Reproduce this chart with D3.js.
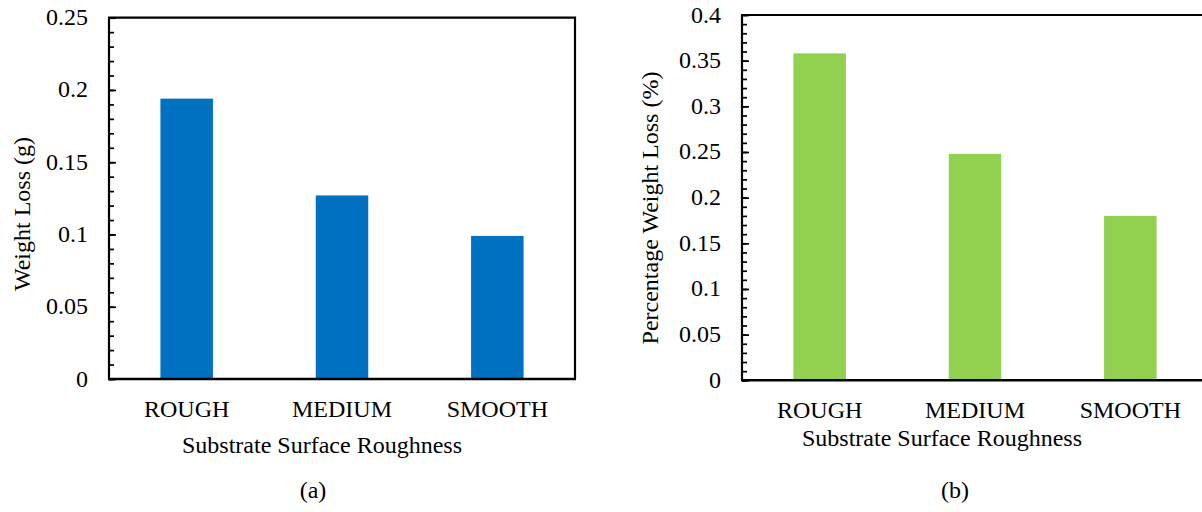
<!DOCTYPE html>
<html>
<head>
<meta charset="utf-8">
<script src="https://cdn.jsdelivr.net/npm/d3@7"></script>
<style>
  body { margin: 0; background: #fff; }
  svg { display: block; }
</style>
</head>
<body>
<svg id="chart" width="1202" height="512"></svg>
<script>
// data
var categories = ["ROUGH", "MEDIUM", "SMOOTH"];
var weightLoss = [0.194, 0.127, 0.099];
var percentLoss = [0.358, 0.248, 0.180];
var weightTicks = [0, 0.05, 0.1, 0.15, 0.2, 0.25];
var percentTicks = [0, 0.05, 0.1, 0.15, 0.2, 0.25, 0.3, 0.35, 0.4];
var xTitle = "Substrate Surface Roughness";

var svg = d3.select("#chart"),
    fontSize = 24,
    fontFamily = "'Liberation Serif', 'Times New Roman', Times, 'DejaVu Serif', serif";

function label(sel) {
    return sel.style("font-family", fontFamily)
        .style("font-size", fontSize + "px")
        .style("fill", "#000");
}

function drawPanel(opt) {
    var x = d3.scaleBand()
        .domain(categories)
        .range([opt.left, opt.right])
        .paddingInner(0.662)
        .paddingOuter(0.331);
    var y = d3.scaleLinear()
        .domain([0, opt.max])
        .range([opt.bottom, opt.top]);

    var g = svg.append("g");

    // bars
    g.selectAll("rect.bar")
        .data(opt.values)
      .enter().append("rect")
        .attr("class", "bar")
        .attr("x", function (d, i) { return x(categories[i]); })
        .attr("y", function (d) { return y(d); })
        .attr("width", x.bandwidth())
        .attr("height", function (d) { return y(0) - y(d); })
        .style("fill", opt.color);

    // minor ticks every 0.01, inward
    var minor = d3.range(0, Math.round(opt.max * 100) + 1).map(function (i) { return i / 100; });
    g.append("g")
        .attr("transform", "translate(" + opt.left + ",0)")
        .call(d3.axisRight(y).tickValues(minor).tickSize(5).tickFormat(""))
        .call(function (s) { s.select(".domain").remove(); })
        .selectAll("line").style("stroke", "#000").style("stroke-width", 1.7);

    // major ticks
    g.append("g")
        .attr("transform", "translate(" + opt.left + ",0)")
        .call(d3.axisRight(y).tickValues(opt.ticks).tickSize(7).tickFormat(""))
        .call(function (s) { s.select(".domain").remove(); })
        .selectAll("line").style("stroke", "#000").style("stroke-width", 1.7);

    g.selectAll("text.ylab")
        .data(opt.ticks)
      .enter().append("text")
        .attr("class", "ylab")
        .attr("x", opt.left - 21)
        .attr("y", function (d) { return y(d) + 7.5; })
        .attr("text-anchor", "end")
        .call(label)
        .text(function (d) { return String(d); });

    // frame
    g.append("path")
        .attr("d", "M" + opt.left + "," + opt.bottom + "V" + opt.top + "H" + opt.right + "V" + opt.bottom)
        .style("fill", "none").style("stroke", "#000").style("stroke-width", 2.2);
    g.append("line")
        .attr("x1", opt.left - 1).attr("x2", opt.right + 1)
        .attr("y1", opt.bottom).attr("y2", opt.bottom)
        .style("stroke", "#000").style("stroke-width", 2.6);

    // category labels
    g.selectAll("text.xlab")
        .data(categories)
      .enter().append("text")
        .attr("class", "xlab")
        .attr("x", function (d) { return x(d) + x.bandwidth() / 2; })
        .attr("y", opt.bottom + 37.5)
        .attr("text-anchor", "middle")
        .call(label)
        .text(function (d) { return d; });

    // titles
    g.append("text")
        .attr("x", opt.xTitleX).attr("y", opt.xTitleY)
        .attr("text-anchor", "middle")
        .call(label)
        .text(xTitle);
    g.append("text")
        .attr("transform", "translate(" + opt.yTitleX + "," + opt.yTitleY + ") rotate(-90)")
        .attr("text-anchor", "middle")
        .attr("dy", "0.33em")
        .call(label)
        .text(opt.yTitle);
    g.append("text")
        .attr("x", opt.capX).attr("y", 498)
        .attr("text-anchor", "middle")
        .call(label)
        .text(opt.caption);
}

drawPanel({
    left: 109, right: 575, top: 17.7, bottom: 379,
    max: 0.25, ticks: weightTicks, values: weightLoss, color: "#0070C0",
    yTitle: "Weight Loss (g)", yTitleX: 22, yTitleY: 214,
    xTitleX: 322, xTitleY: 453, capX: 313, caption: "(a)"
});

drawPanel({
    left: 742, right: 1208, top: 15, bottom: 380.3,
    max: 0.4, ticks: percentTicks, values: percentLoss, color: "#92D050",
    yTitle: "Percentage Weight Loss (%)", yTitleX: 650, yTitleY: 208,
    xTitleX: 942, xTitleY: 446, capX: 955, caption: "(b)"
});
</script>
</body>
</html>
